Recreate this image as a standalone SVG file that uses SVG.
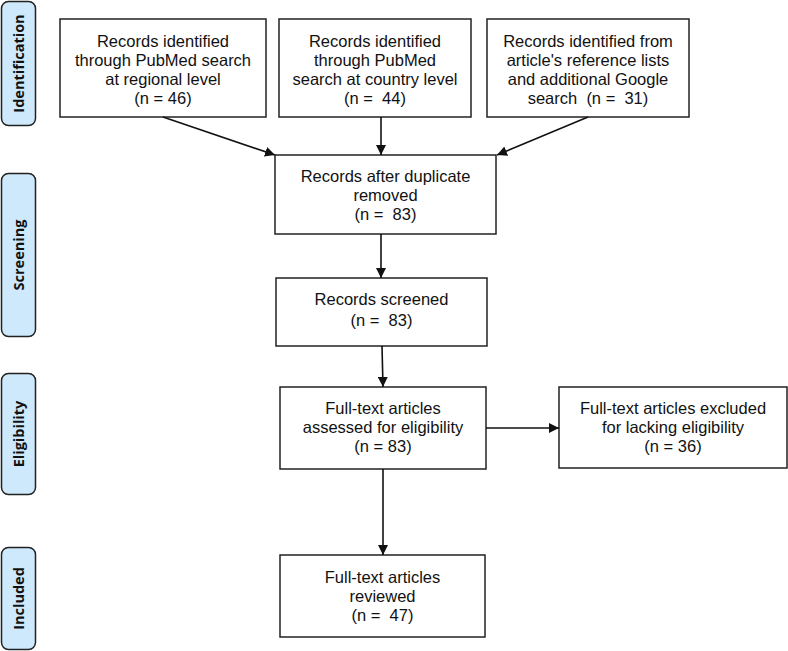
<svg xmlns="http://www.w3.org/2000/svg" width="788" height="651" viewBox="0 0 788 651">
<style>
.box{fill:#fff;stroke:#222;stroke-width:1.5}
.stage{fill:#cde9fb;stroke:#222;stroke-width:1.5}
.t{font-family:"Liberation Sans",Arial,sans-serif;font-size:16.5px;fill:#111;text-anchor:middle}
.s{font-family:"Open Sans","Liberation Sans",sans-serif;font-size:14.5px;font-weight:bold;fill:#111;text-anchor:middle}
.c{stroke:#111;stroke-width:1.6;fill:none;marker-end:url(#ah)}
</style>
<defs>
<marker id="ah" viewBox="0 0 10 10" refX="10" refY="5" markerWidth="10" markerHeight="10" markerUnits="userSpaceOnUse" orient="auto">
<path d="M0,0 L10,5 L0,10 z" fill="#111"/>
</marker>
</defs>
<g id="stage-identification"><rect class="stage" x="1.5" y="1.5" width="34" height="124" rx="7"/><text class="s" transform="translate(24,63.5) rotate(-90)">Identification</text></g>
<g id="stage-screening"><rect class="stage" x="1.5" y="173.5" width="34" height="163" rx="7"/><text class="s" transform="translate(24,255) rotate(-90)">Screening</text></g>
<g id="stage-eligibility"><rect class="stage" x="1.5" y="373.5" width="34" height="121" rx="7"/><text class="s" transform="translate(24,434) rotate(-90)">Eligibility</text></g>
<g id="stage-included"><rect class="stage" x="1.5" y="547.5" width="34" height="102" rx="7"/><text class="s" transform="translate(24,598.5) rotate(-90)">Included</text></g>

<g id="n-regional"><rect class="box" x="60" y="19" width="206" height="98"/>
<text class="t" x="163" y="47">Records identified</text>
<text class="t" x="163" y="66">through PubMed search</text>
<text class="t" x="163" y="85">at regional level</text>
<text class="t" x="163" y="104">(n = 46)</text></g>

<g id="n-country"><rect class="box" x="279" y="19" width="192" height="98"/>
<text class="t" x="375" y="47">Records identified</text>
<text class="t" x="375" y="66">through PubMed</text>
<text class="t" x="375" y="85">search at country level</text>
<text class="t" x="375" y="104" xml:space="preserve">(n =  44)</text></g>

<g id="n-other"><rect class="box" x="487" y="19" width="202" height="98"/>
<text class="t" x="588" y="47">Records identified from</text>
<text class="t" x="588" y="66">article's reference lists</text>
<text class="t" x="588" y="85">and additional Google</text>
<text class="t" x="588" y="104" xml:space="preserve">search  (n =  31)</text></g>

<g id="n-dedup"><rect class="box" x="275" y="155" width="221" height="79"/>
<text class="t" x="385.5" y="182">Records after duplicate</text>
<text class="t" x="385.5" y="201">removed</text>
<text class="t" x="385.5" y="220" xml:space="preserve">(n =  83)</text></g>

<g id="n-screened"><rect class="box" x="276" y="278" width="211" height="68"/>
<text class="t" x="381.5" y="305">Records screened</text>
<text class="t" x="381.5" y="326" xml:space="preserve">(n =  83)</text></g>

<g id="n-assessed"><rect class="box" x="280" y="387" width="206" height="82"/>
<text class="t" x="383" y="414">Full-text articles</text>
<text class="t" x="383" y="433">assessed for eligibility</text>
<text class="t" x="383" y="452">(n = 83)</text></g>

<g id="n-excluded"><rect class="box" x="559" y="387" width="228" height="81"/>
<text class="t" x="673" y="414">Full-text articles excluded</text>
<text class="t" x="673" y="433">for lacking eligibility</text>
<text class="t" x="673" y="452">(n = 36)</text></g>

<g id="n-reviewed"><rect class="box" x="280" y="555" width="205" height="82"/>
<text class="t" x="382.5" y="583">Full-text articles</text>
<text class="t" x="382.5" y="602">reviewed</text>
<text class="t" x="382.5" y="621" xml:space="preserve">(n =  47)</text></g>

<g id="connectors">
<line class="c" x1="163" y1="117" x2="275" y2="155"/>
<line class="c" x1="381" y1="117" x2="381" y2="155"/>
<line class="c" x1="588" y1="117" x2="497" y2="155"/>
<line class="c" x1="381" y1="234" x2="381" y2="278"/>
<line class="c" x1="382" y1="346" x2="383" y2="387"/>
<line class="c" x1="486" y1="428" x2="559" y2="428"/>
<line class="c" x1="383" y1="469" x2="383" y2="555"/>
</g>
</svg>
